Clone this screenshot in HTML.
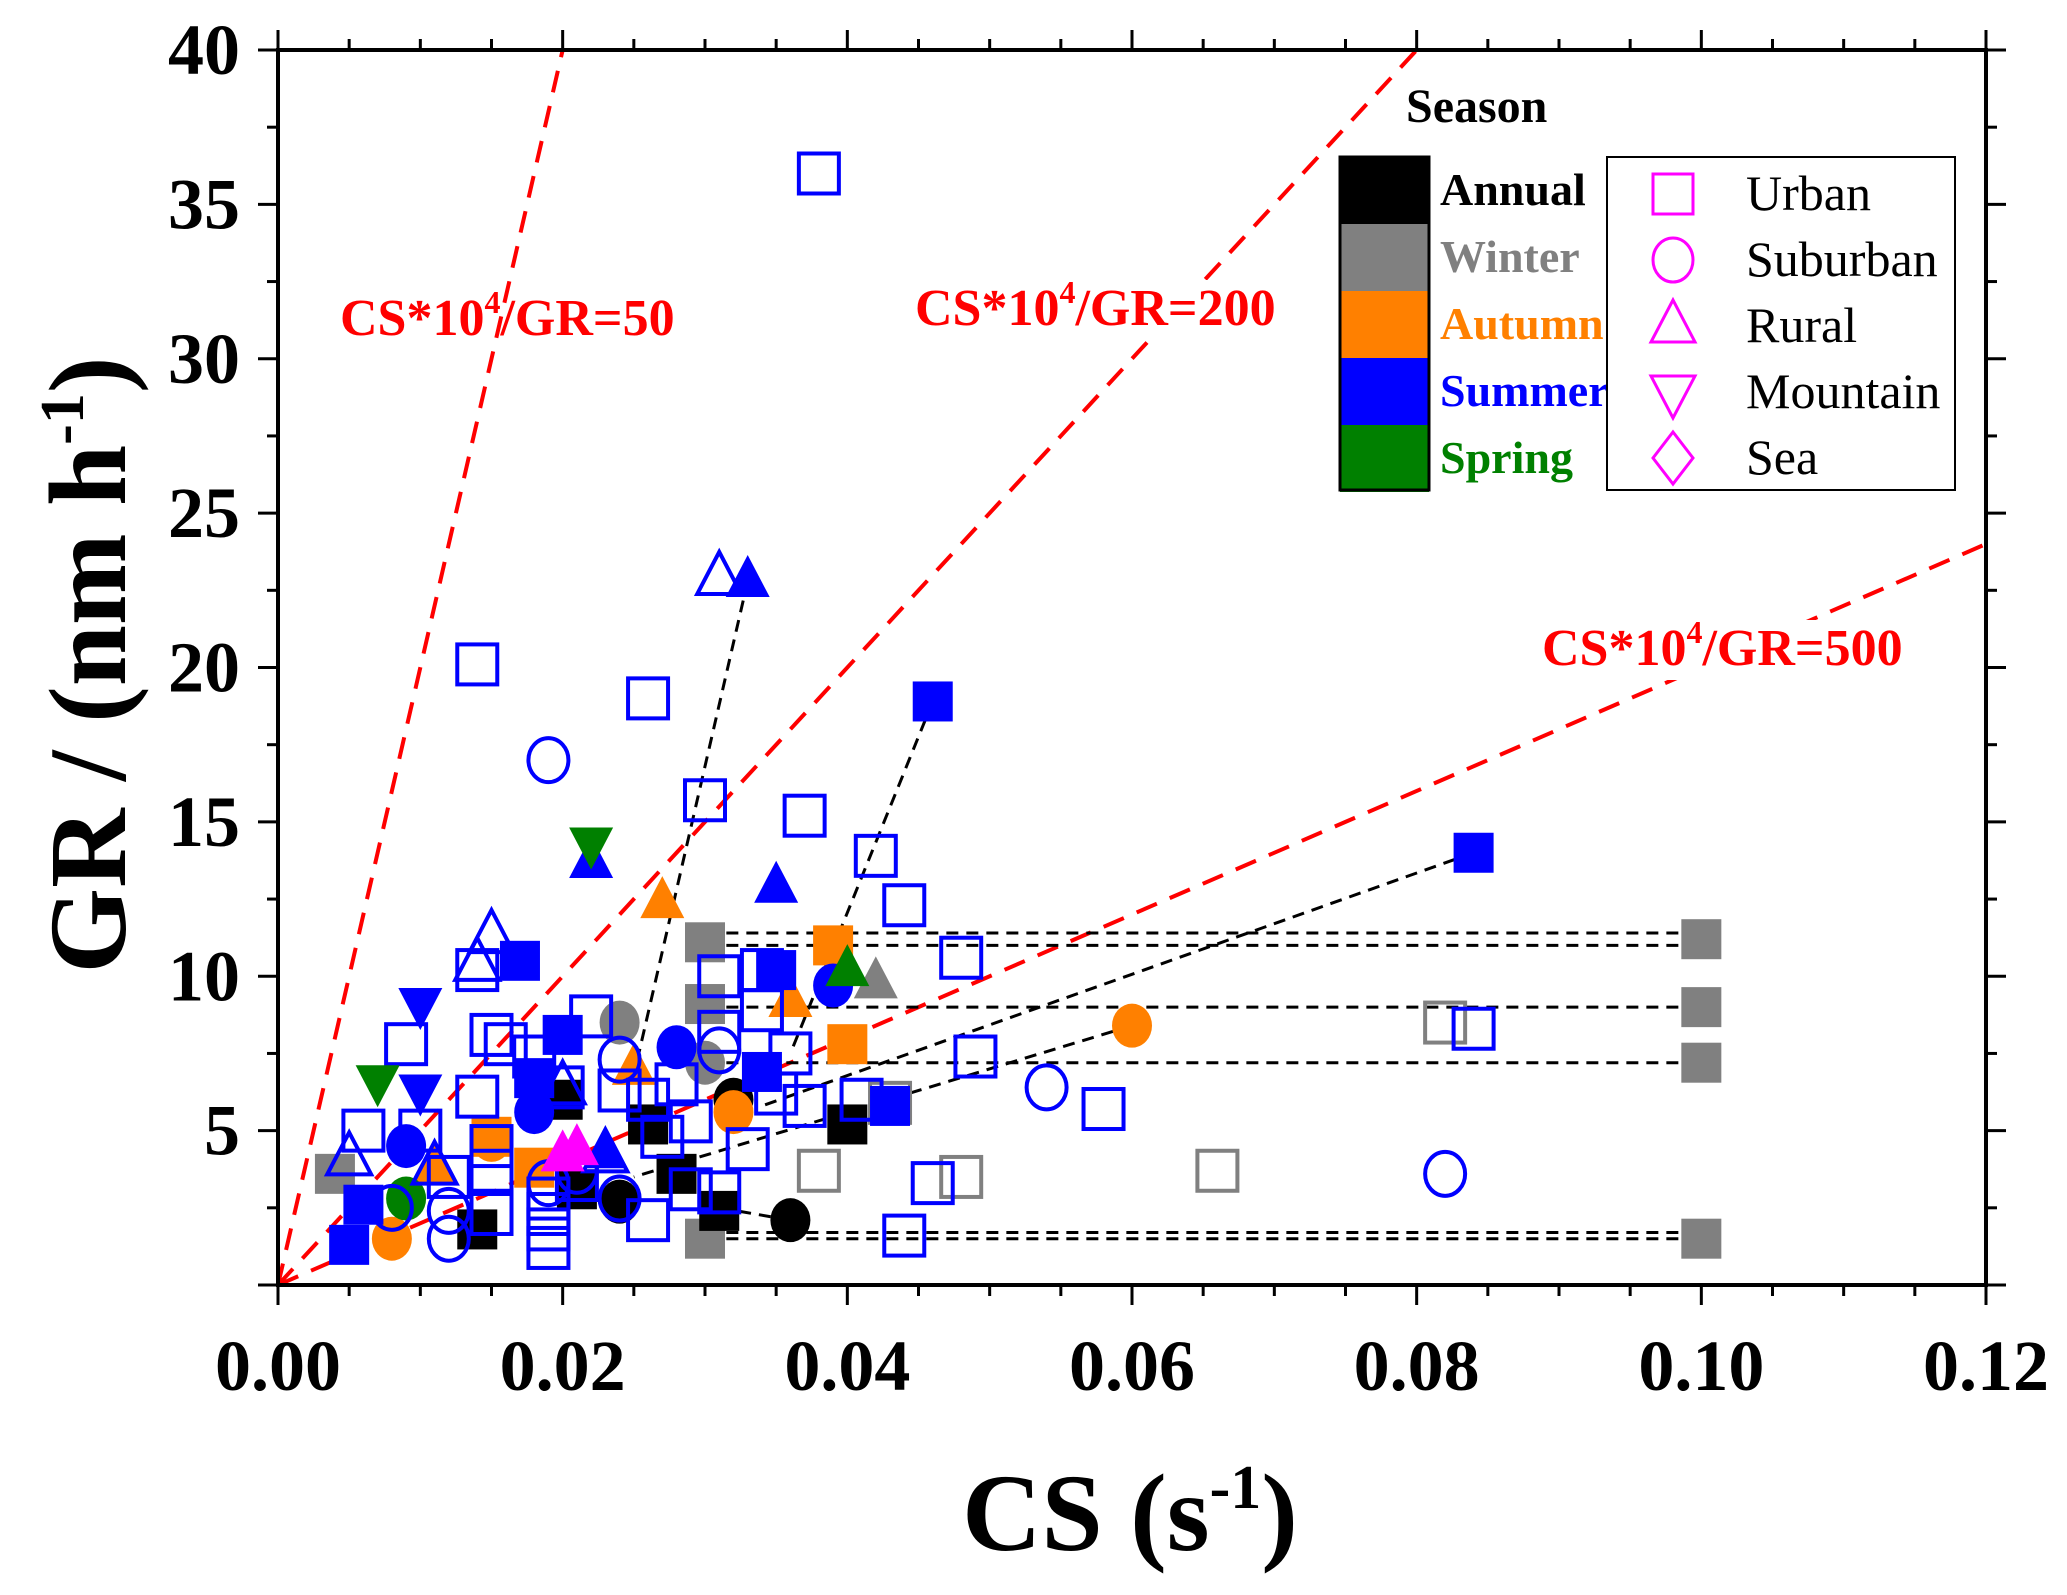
<!DOCTYPE html>
<html><head><meta charset="utf-8"><style>
html,body{margin:0;padding:0;background:#fff;}
svg{display:block;font-family:"Liberation Serif",serif;}
</style></head><body>
<svg id="chart" width="2067" height="1595" viewBox="0 0 2067 1595" xmlns="http://www.w3.org/2000/svg"></svg>
<script>
const xTicks=[0,0.02,0.04,0.06,0.08,0.10,0.12];
const xTickLabels=["0.00","0.02","0.04","0.06","0.08","0.10","0.12"];
const yTicks=[5,10,15,20,25,30,35,40];
const yTickLabels=["5","10","15","20","25","30","35","40"];
const refRatios=[50,200,500];
const urbanSummerOpen=[[0.038,36],[0.014,20.1],[0.026,19],[0.030,15.7],[0.037,15.2],[0.042,13.9],[0.044,12.3],[0.048,10.6],[0.049,7.4],[0.058,5.7],[0.084,8.3],[0.044,1.6],[0.046,3.3],[0.014,10.2],[0.009,7.8],[0.015,8.1],[0.006,5],[0.014,6.1],[0.016,7.8],[0.022,8.7],[0.031,10],[0.031,8.2],[0.036,7.5],[0.035,6.2],[0.037,5.8],[0.033,4.4],[0.020,6.4],[0.019,2.8],[0.019,1.8],[0.019,1.2],[0.019,2.3],[0.021,3.4],[0.026,2.1],[0.027,4.8],[0.029,3.1],[0.031,3.0],[0.015,4.5],[0.015,2.3],[0.012,3.5],[0.018,7.4],[0.024,6.3],[0.026,6],[0.028,6.5],[0.041,6],[0.010,5.0],[0.015,3.7],[0.034,8.9],[0.034,10.2],[0.029,5.3]];
const urbanWinterOpen=[[0.038,3.7],[0.048,3.5],[0.066,3.7],[0.082,8.5],[0.043,5.9]];
const suburbanSummerOpen=[[0.019,17],[0.054,6.4],[0.082,3.6],[0.012,1.5],[0.024,7.3],[0.031,7.6],[0.024,2.8],[0.021,3.7],[0.012,2.4],[0.008,2.5],[0.019,3.3]];
const ruralSummerOpen=[[0.031,22.9],[0.015,11.3],[0.014,10.4],[0.005,4.1],[0.020,6.4],[0.011,3.8],[0.023,4.2]];
const dashedLinks=[[[0.033,22.8],[0.025,6.8]],[[0.046,18.9],[0.036,7.5]],[[0.084,14],[0.034,5.8]],[[0.060,8.4],[0.025,3.5]],[[0.036,2.1],[0.031,2.5]],[[0.0315,11.4],[0.1,11.4]],[[0.0315,11.0],[0.1,11.0]],[[0.0315,9.0],[0.1,9.0]],[[0.0315,7.2],[0.1,7.2]],[[0.0315,1.7],[0.1,1.7]],[[0.0315,1.5],[0.1,1.5]]];
const graySquares=[[0.030,11.1],[0.030,9.1],[0.030,1.5],[0.100,11.2],[0.100,9.0],[0.100,7.2],[0.100,1.5],[0.004,3.6]];
const grayCircles=[[0.024,8.5],[0.030,7.2]];
const grayTriangles=[[0.042,9.8]];
const blackSquares=[[0.040,5.2],[0.028,3.6],[0.031,2.4],[0.014,1.8],[0.026,5.2],[0.020,6],[0.021,3.1]];
const blackCircles=[[0.036,2.1],[0.024,2.7],[0.032,6]];
const orangeCircles=[[0.060,8.4],[0.008,1.5],[0.032,5.6],[0.015,4.7]];
const orangeSquares=[[0.039,11],[0.040,7.8],[0.015,4.8],[0.018,3.8]];
const orangeTriangles=[[0.027,12.4],[0.036,9.2],[0.025,7],[0.011,3.8]];
const blueSquares=[[0.046,18.9],[0.084,14],[0.017,10.5],[0.035,10.2],[0.020,8.1],[0.034,6.9],[0.043,5.8],[0.005,1.3],[0.006,2.6],[0.018,6.7]];
const blueCircles=[[0.028,7.7],[0.039,9.7],[0.009,4.5],[0.018,5.6]];
const blueTriangles=[[0.033,22.8],[0.035,12.9],[0.022,13.7],[0.023,4.3]];
const blueDownTriangles=[[0.010,9.1],[0.010,6.3]];
const greenDownTriangles=[[0.022,14.3],[0.007,6.6]];
const greenTriangles=[[0.040,10.2]];
const greenCircles=[[0.009,2.8]];
const magentaTriangles=[[0.020,4.2],[0.021,4.4]];
const seasonNames=["Annual","Winter","Autumn","Summer","Spring"];
const siteNames=["Urban","Suburban","Rural","Mountain","Sea"];

const L=278,R=1986,T=50,B=1285;
const X=v=>L+(v-0)/0.12*(R-L);
const Y=v=>B-(v-0)/40*(B-T);
const NS="http://www.w3.org/2000/svg";
const svg=document.getElementById('chart');
function el(tag,attrs,parent){const e=document.createElementNS(NS,tag);for(const k in attrs)e.setAttribute(k,attrs[k]);(parent||svg).appendChild(e);return e;}
const clipDefs=el('defs',{});
const cp=el('clipPath',{id:'pc'},clipDefs);el('rect',{x:L,y:T,width:R-L,height:B-T},cp);
const plot=el('g',{'clip-path':'url(#pc)'});



refRatios.forEach(k=>{
  const ln=el('line',{x1:X(0),y1:Y(0),x2:X(0.12),y2:Y(0.12*1e5/k),stroke:'#ff0000','stroke-width':4,'stroke-dasharray':'22,14'},plot);
  
  
});
// label backgrounds (gaps in lines)
el('rect',{x:910,y:280,width:380,height:60,fill:'#fff'},plot);
el('rect',{x:1537,y:620,width:380,height:60,fill:'#fff'},plot);
dashedLinks.forEach(p=>{
  const ln=el('line',{x1:X(p[0][0]),y1:Y(p[0][1]),x2:X(p[1][0]),y2:Y(p[1][1]),stroke:'#000','stroke-width':3,'stroke-dasharray':'12,8'},plot);
  
  
});
const S=20;
function marker(shape,cx,cy,fill,stroke,parent,name){
  let e;const sw=fill==='none'?4:0;
  if(shape==='sq')e=el('rect',{x:cx-S,y:cy-S,width:2*S,height:2*S},parent);
  else if(shape==='ci')e=el('ellipse',{cx:cx,cy:cy,rx:S,ry:S*1.1},parent);
  else if(shape==='tr')e=el('polygon',{points:`${cx},${cy-S*1.3} ${cx-S*1.1},${cy+S*0.8} ${cx+S*1.1},${cy+S*0.8}`},parent);
  else if(shape==='dt')e=el('polygon',{points:`${cx},${cy+S*1.3} ${cx-S*1.1},${cy-S*0.8} ${cx+S*1.1},${cy-S*0.8}`},parent);
  else e=el('polygon',{points:`${cx},${cy-S*1.3} ${cx+S},${cy} ${cx},${cy+S*1.3} ${cx-S},${cy}`},parent);
  e.setAttribute('fill',fill);e.setAttribute('stroke',stroke);e.setAttribute('stroke-width',sw);
  
  
  return e;
}
function series(arr,shape,fill,stroke,name){arr.forEach(p=>marker(shape,X(p[0]),Y(p[1]),fill,stroke,plot,name));}
series(graySquares,'sq','#808080','none','winter-square');
series(grayCircles,'ci','#808080','none','winter-circle');
series(grayTriangles,'tr','#808080','none','winter-triangle');
series(blackSquares,'sq','#000','none','annual-square');
series(blackCircles,'ci','#000','none','annual-circle');
series(orangeCircles,'ci','#ff8000','none','autumn-circle');
series(orangeSquares,'sq','#ff8000','none','autumn-square');
series(orangeTriangles,'tr','#ff8000','none','autumn-triangle');
series(greenCircles,'ci','#008000','none','spring-circle');
series(urbanWinterOpen,'sq','none','#808080','winter-urban-open');
series(urbanSummerOpen,'sq','none','#0000ff','summer-urban-open');
series(suburbanSummerOpen,'ci','none','#0000ff','summer-suburban-open');
series(ruralSummerOpen,'tr','none','#0000ff','summer-rural-open');
series(blueSquares,'sq','#0000ff','none','summer-square');
series(blueCircles,'ci','#0000ff','none','summer-circle');
series(blueTriangles,'tr','#0000ff','none','summer-triangle');
series(blueDownTriangles,'dt','#0000ff','none','summer-mountain');
series(greenDownTriangles,'dt','#008000','none','spring-mountain');
series(greenTriangles,'tr','#008000','none','spring-triangle');
series(magentaTriangles,'tr','#ff00ff','none','magenta-triangle');

const fr=el('rect',{x:L,y:T,width:R-L,height:B-T,fill:'none',stroke:'#000','stroke-width':4});


for(let i=0;i<=24;i++){const v=i*0.005;const x=X(v);const maj=i%4===0;const len=maj?20:11;
  el('line',{x1:x,y1:B,x2:x,y2:B+len,stroke:'#000','stroke-width':3});
  el('line',{x1:x,y1:T,x2:x,y2:T-len,stroke:'#000','stroke-width':3});}
xTicks.forEach((v,i)=>{const t=el('text',{x:X(v),y:1390,'text-anchor':'middle','font-size':72,'font-weight':'bold'});t.textContent=xTickLabels[i];
  
  });
for(let i=0;i<=40;i+=2.5){const y=Y(i);const maj=i%5===0;const len=maj?20:11;
  el('line',{x1:L,y1:y,x2:L-len,y2:y,stroke:'#000','stroke-width':3});
  el('line',{x1:R,y1:y,x2:R+len,y2:y,stroke:'#000','stroke-width':3});}
yTicks.forEach((v,i)=>{const t=el('text',{x:240,y:Y(v)+24,'text-anchor':'end','font-size':72,'font-weight':'bold'});t.textContent=yTickLabels[i];
  
  });
const xt=el('text',{x:1130,y:1550,'text-anchor':'middle','font-size':110,'font-weight':'bold'});
xt.innerHTML='CS (s<tspan dy="-42" font-size="62">-1</tspan><tspan dy="42">)</tspan>';


const yt=el('text',{x:0,y:0,'text-anchor':'middle','font-size':110,'font-weight':'bold',transform:'translate(125,665) rotate(-90)'});
yt.innerHTML='GR / (nm h<tspan dy="-42" font-size="62">-1</tspan><tspan dy="42">)</tspan>';


[[340,335,'50'],[915,325,'200'],[1542,665,'500']].forEach(a=>{
  const t=el('text',{x:a[0],y:a[1],'font-size':52,'font-weight':'bold',fill:'#ff0000'});
  t.innerHTML='CS*10<tspan dy="-22" font-size="32">4</tspan><tspan dy="22">/GR='+a[2]+'</tspan>';
  
  
});
const sl=el('g',{});


const st=el('text',{x:1406,y:122,'font-size':48,'font-weight':'bold'},sl);st.textContent='Season';
const sc=['#000','#808080','#ff8000','#0000ff','#008000'];
seasonNames.forEach((n,i)=>{
  const y0=157+i*67;
  const r=el('rect',{x:1340,y:y0,width:89,height:67,fill:sc[i]},sl);
  
  
  const t=el('text',{x:1440,y:y0+48,'font-size':46,'font-weight':'bold',fill:sc[i]},sl);t.textContent=n;
  
  
});
el('rect',{x:1340,y:157,width:89,height:333,fill:'none',stroke:'#000','stroke-width':3},sl);
const lg=el('g',{});


el('rect',{x:1607,y:157,width:348,height:333,fill:'#fff',stroke:'#000','stroke-width':2},lg);
const shp=['sq','ci','tr','dt','di'];
siteNames.forEach((n,i)=>{
  const cy=194+i*66;
  marker(shp[i],1673,cy,'none','#ff00ff',lg,'legend-marker-'+n.toLowerCase()).setAttribute('stroke-width',3);
  const t=el('text',{x:1746,y:cy+16,'font-size':50},lg);t.textContent=n;
  
  
});
</script>
</body></html>
